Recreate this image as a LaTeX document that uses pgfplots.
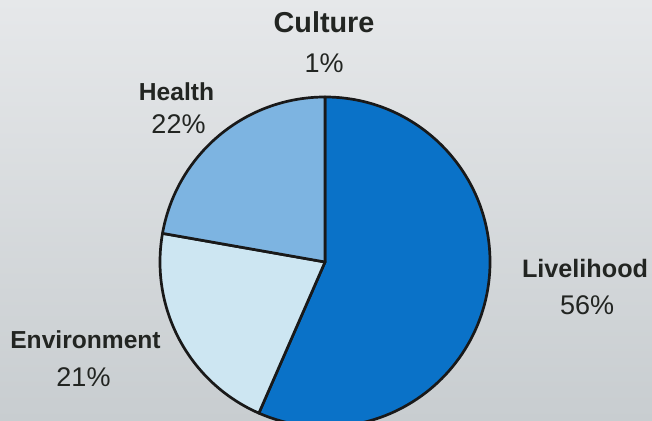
\documentclass[border=0pt]{standalone}
\usepackage{pgfplots}
\pgfplotsset{compat=1.18}
\usepackage{pgfplotstable}
\usepackage{fontspec}
\setmainfont{Liberation Sans}

\definecolor{livecol}{HTML}{0A72C8}
\definecolor{envcol}{HTML}{CDE6F2}
\definecolor{healthcol}{HTML}{7DB4E1}
\definecolor{bgtop}{HTML}{E6E8EA}
\definecolor{bgbot}{HTML}{C8CDD0}
\definecolor{txt}{HTML}{222522}

% drawn slices (Culture, 1%, is too small to show as a wedge)
\pgfplotstableread{
label value colour
Livelihood 56 livecol
Environment 21 envcol
Health 22 healthcol
}\piedata

\begin{document}
\begin{tikzpicture}
\path[use as bounding box, clip] (0,0) rectangle (326pt,210.5pt);
\shade[top color=bgtop, bottom color=bgbot] (0,0) rectangle (326pt,210.5pt);
\begin{axis}[
    at={(0,0)}, anchor=south west,
    width=326pt, height=210.5pt,
    scale only axis,
    xmin=0, xmax=652, ymin=0, ymax=421,
    hide axis,
    clip=false,
]
    % total of the drawn slices
    \def\total{0}
    \pgfplotsforeachungrouped \i in {0,1,2}{%
        \pgfplotstablegetelem{\i}{value}\of\piedata
        \pgfmathsetmacro\total{\total+\pgfplotsretval}%
    }
    \def\curang{90}
    \pgfplotsforeachungrouped \i in {0,1,2}{%
        \pgfplotstablegetelem{\i}{value}\of\piedata \let\val\pgfplotsretval
        \pgfplotstablegetelem{\i}{colour}\of\piedata \let\col\pgfplotsretval
        \pgfmathsetmacro\endang{\curang-\val/\total*360}%
        \edef\cmd{\noexpand\filldraw[fill=\col, draw=black!90, line width=1.35pt, line join=round]
            (axis cs:325,159) -- ++(\curang:82.5pt)
            arc[start angle=\curang, end angle=\endang, radius=82.5pt] -- cycle;}%
        \cmd
        \global\let\curang\endang
    }

    \tikzset{lab/.style={anchor=base, inner sep=0pt, text=txt, font=\bfseries\fontsize{12.3}{14}\selectfont},
             pct/.style={anchor=base, inner sep=0pt, text=txt, font=\fontsize{13.5}{16}\selectfont}}
    \node[lab, font=\bfseries\fontsize{14.4}{16}\selectfont] at (axis cs:324,388) {Culture};
    \node[pct] at (axis cs:324,348) {1\%};
    \node[lab] at (axis cs:176.5,320) {Health};
    \node[pct] at (axis cs:178.5,287) {22\%};
    \node[lab, font=\bfseries\fontsize{12.6}{14}\selectfont] at (axis cs:585,143) {Livelihood};
    \node[pct] at (axis cs:587,106) {56\%};
    \node[lab] at (axis cs:85.5,72) {Environment};
    \node[pct] at (axis cs:83.5,34) {21\%};
\end{axis}
\end{tikzpicture}
\end{document}
